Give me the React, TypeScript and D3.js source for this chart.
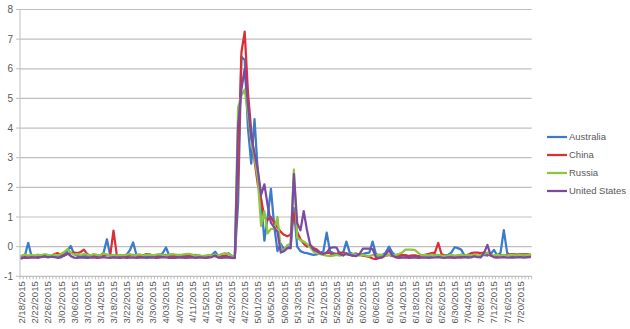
import React from "react";
import * as d3 from "d3";

const W = 630;
const H = 329;

const startDate = new Date(2015, 1, 18);
const endDate = new Date(2015, 6, 24);
const categories: Date[] = d3.timeDay.range(startDate, endDate);

const yTicks = [-1, 0, 1, 2, 3, 4, 5, 6, 7, 8];
const seriesNames = ["Australia", "China", "Russia", "United States"];
const seriesColors = ["#3B7BCB", "#DA2F36", "#8CC640", "#7D4AA2"];

const australia = [
  -0.33, -0.30, 0.13, -0.32, -0.34, -0.33, -0.30, -0.34, -0.33, -0.31,
  -0.30, -0.33, -0.32, -0.25, -0.12, 0.02, -0.25, -0.31, -0.33, -0.30,
  -0.32, -0.34, -0.31, -0.33, -0.30, -0.20, 0.25, -0.30, -0.33, -0.36,
  -0.32, -0.30, -0.27, -0.12, 0.14, -0.28, -0.33, -0.32, -0.35, -0.31,
  -0.33, -0.31, -0.30, -0.22, -0.03, -0.30, -0.34, -0.33, -0.31, -0.35,
  -0.32, -0.30, -0.33, -0.32, -0.30, -0.34, -0.33, -0.31, -0.28, -0.17,
  -0.32, -0.30, -0.33, -0.22, -0.31, -0.33, 1.5, 6.4, 6.3, 4.0,
  2.8, 4.3, 2.5, 1.6, 0.2, 1.0, 1.95, 0.7, -0.15, 0.1,
  -0.1, 0.0, -0.05, 1.3, 0.0, -0.15, -0.2, -0.22, -0.25, -0.28,
  -0.26, -0.22, -0.15, 0.47, -0.15, -0.22, -0.25, -0.2, -0.22, 0.17,
  -0.2, -0.25, -0.23, -0.28, -0.25, -0.22, -0.2, 0.17, -0.25, -0.3,
  -0.28, -0.2, 0.0, -0.2, -0.3, -0.27, -0.3, -0.28, -0.32, -0.3,
  -0.3, -0.32, -0.3, -0.28, -0.32, -0.3, -0.27, -0.3, -0.32, -0.3,
  -0.28, -0.2, -0.02, -0.05, -0.1, -0.3, -0.33, -0.32, -0.3, -0.32,
  -0.3, -0.28, -0.3, -0.25, -0.11, -0.3, -0.2, 0.56, -0.2, -0.3,
  -0.32, -0.3, -0.31, -0.33, -0.3, -0.31,
];

const china = [
  -0.40, -0.35, -0.33, -0.32, -0.30, -0.33, -0.31, -0.30, -0.34, -0.32,
  -0.25, -0.22, -0.28, -0.30, -0.25, -0.22, -0.20, -0.22, -0.18, -0.10,
  -0.25, -0.32, -0.30, -0.33, -0.31, -0.30, -0.28, -0.30, 0.54, -0.28,
  -0.33, -0.30, -0.32, -0.30, -0.28, -0.30, -0.33, -0.30, -0.25, -0.26,
  -0.30, -0.32, -0.35, -0.30, -0.28, -0.32, -0.30, -0.31, -0.28, -0.30,
  -0.32, -0.33, -0.30, -0.28, -0.31, -0.35, -0.38, -0.33, -0.30, -0.32,
  -0.36, -0.33, -0.30, -0.34, -0.32, -0.35, 2.5, 6.55, 7.25, 5.2,
  3.9, 2.9, 2.1, 1.6, 1.0, 0.9, 1.0, 0.8, 0.65, 0.5,
  0.4, 0.35, 0.4, 1.15, 0.5, 0.25, 0.1, 0.0, 0.05, -0.05,
  -0.1, -0.2, -0.25, -0.2, -0.22, -0.28, -0.25, -0.22, -0.2, -0.25,
  -0.28, -0.3, -0.25, -0.27, -0.3, -0.32, -0.35, -0.4, -0.42, -0.38,
  -0.35, -0.3, -0.28, -0.32, -0.3, -0.33, -0.28, -0.3, -0.32, -0.3,
  -0.3, -0.33, -0.3, -0.28, -0.25, -0.22, -0.2, 0.13, -0.25, -0.3,
  -0.33, -0.35, -0.32, -0.3, -0.33, -0.3, -0.28, -0.22, -0.2, -0.2,
  -0.22, -0.2, -0.25, -0.3, -0.32, -0.3, -0.28, -0.3, -0.27, -0.25,
  -0.25, -0.27, -0.25, -0.26, -0.25, -0.27,
];

const russia = [
  -0.30, -0.27, -0.30, -0.28, -0.31, -0.27, -0.30, -0.25, -0.28, -0.30,
  -0.27, -0.30, -0.25, -0.18, -0.08, -0.20, -0.27, -0.25, -0.28, -0.25,
  -0.27, -0.30, -0.25, -0.28, -0.30, -0.22, -0.27, -0.30, -0.28, -0.30,
  -0.28, -0.30, -0.27, -0.25, -0.30, -0.28, -0.26, -0.30, -0.28, -0.27,
  -0.30, -0.27, -0.25, -0.28, -0.30, -0.27, -0.25, -0.27, -0.29, -0.27,
  -0.25, -0.24, -0.27, -0.30, -0.28, -0.32, -0.30, -0.28, -0.30, -0.27,
  -0.30, -0.25, -0.22, -0.25, -0.30, -0.32, 4.7, 5.1, 5.3, 4.5,
  3.6, 3.0, 2.3, 0.7, 1.2, 0.45, 0.6, 0.6, 1.0, -0.1,
  -0.1, 0.05, 0.1, 2.6, 0.3, 0.22, 0.17, 0.09, -0.02, -0.17,
  -0.22, -0.25, -0.28, -0.3, -0.32, -0.3, -0.28, -0.3, -0.27, -0.25,
  -0.28, -0.25, -0.27, -0.3, -0.28, -0.3, -0.32, -0.28, -0.3, -0.27,
  -0.28, -0.3, -0.27, -0.3, -0.28, -0.25, -0.2, -0.1, -0.1, -0.1,
  -0.12, -0.22, -0.3, -0.28, -0.3, -0.27, -0.3, -0.28, -0.3, -0.32,
  -0.3, -0.28, -0.3, -0.3, -0.27, -0.3, -0.28, -0.3, -0.27, -0.3,
  -0.28, -0.25, -0.2, -0.28, -0.3, -0.27, -0.3, -0.28, -0.3, -0.27,
  -0.28, -0.3, -0.27, -0.3, -0.28, -0.27,
];

const unitedStates = [
  -0.38, -0.37, -0.38, -0.37, -0.36, -0.38, -0.35, -0.33, -0.36, -0.34,
  -0.35, -0.38, -0.36, -0.30, -0.22, -0.32, -0.37, -0.38, -0.36, -0.37,
  -0.38, -0.37, -0.36, -0.38, -0.37, -0.35, -0.37, -0.38, -0.36, -0.37,
  -0.38, -0.36, -0.38, -0.37, -0.36, -0.38, -0.37, -0.36, -0.38, -0.37,
  -0.36, -0.38, -0.37, -0.35, -0.36, -0.38, -0.37, -0.38, -0.36, -0.37,
  -0.38, -0.37, -0.36, -0.38, -0.37, -0.36, -0.38, -0.37, -0.35, -0.30,
  -0.37, -0.38, -0.36, -0.37, -0.38, -0.39, 4.1, 5.3, 6.0, 4.8,
  3.7, 3.15, 2.6, 1.75, 2.1, 1.4, 0.8, 0.65, 0.5, -0.2,
  -0.15, -0.05, -0.05, 2.45, 0.8, 0.55, 1.2, 0.55, 0.05, -0.1,
  -0.15, -0.22, -0.25, -0.2, -0.05, -0.02, -0.03, -0.25, -0.3, -0.22,
  -0.28, -0.3, -0.32, -0.25, -0.07, -0.07, -0.07, -0.08, -0.35, -0.38,
  -0.36, -0.25, -0.12, -0.3, -0.36, -0.38, -0.37, -0.36, -0.38, -0.37,
  -0.36, -0.38, -0.37, -0.36, -0.38, -0.37, -0.36, -0.35, -0.37, -0.38,
  -0.36, -0.37, -0.38, -0.36, -0.37, -0.35, -0.37, -0.36, -0.33, -0.35,
  -0.36, -0.2, 0.06, -0.3, -0.36, -0.37, -0.36, -0.35, -0.37, -0.36,
  -0.37, -0.36, -0.35, -0.37, -0.36, -0.35,
];

const seriesValues = [australia, china, russia, unitedStates];

const plotLeft = 20;
const plotRight = 531.7;
const plotTop = 9.5;
const plotBottom = 276.3;

const fmt = d3.timeFormat("%-m/%d/%Y");

export default function App() {
  const x = d3
    .scaleBand<number>()
    .domain(categories.map((_, i) => i))
    .range([plotLeft, plotRight])
    .paddingInner(0)
    .paddingOuter(0);
  const step = x.step();
  const cx = (i: number) => (x(i) as number) + step / 2;
  const y = d3.scaleLinear().domain([-1, 8]).range([plotBottom, plotTop]);

  const line = d3
    .line<number>()
    .x((_, i) => cx(i))
    .y((d) => y(d));

  const font = "'Liberation Sans', Arial, sans-serif";
  const textColor = "#595959";
  const gridColor = "#BFBFBF";

  const boundaries = d3.range(categories.length + 1).map((i) => plotLeft + i * step);
  const labelIdx = categories.map((_, i) => i).filter((i) => i % 4 === 0);

  return (
    <svg
      width={W}
      height={H}
      style={{ position: "absolute", left: 0, top: 0, background: "#fff" }}
    >
      {yTicks.map((t) => (
        <g key={t}>
          <line
            x1={plotLeft}
            x2={plotRight}
            y1={y(t)}
            y2={y(t)}
            stroke={gridColor}
            strokeWidth={1.2}
          />
          <line x1={plotLeft - 4} x2={plotLeft} y1={y(t)} y2={y(t)} stroke={gridColor} />
          <text
            x={plotLeft - 7}
            y={y(t)}
            dy="0.35em"
            textAnchor="end"
            fontFamily={font}
            fontSize={10}
            fill={textColor}
          >
            {t}
          </text>
        </g>
      ))}
      <line x1={plotLeft} x2={plotLeft} y1={plotTop} y2={plotBottom} stroke={gridColor} />
      {boundaries.map((bx, i) => (
        <line
          key={i}
          x1={bx}
          x2={bx}
          y1={plotBottom}
          y2={plotBottom + 3}
          stroke={gridColor}
        />
      ))}
      {labelIdx.map((i) => (
        <text
          key={i}
          transform={`translate(${cx(i) + 3.5},${plotBottom + 5}) rotate(-90)`}
          textAnchor="end"
          fontFamily={font}
          fontSize={9.5}
          fill={textColor}
        >
          {fmt(categories[i])}
        </text>
      ))}
      {seriesValues.map((vals, s) => (
        <path
          key={seriesNames[s]}
          d={line(vals) || ""}
          fill="none"
          stroke={seriesColors[s]}
          strokeWidth={2.25}
          strokeLinejoin="round"
          strokeLinecap="round"
        />
      ))}
      {seriesNames.map((name, s) => {
        const ly = 137 + s * 18;
        return (
          <g key={name}>
            <line
              x1={547}
              x2={567}
              y1={ly}
              y2={ly}
              stroke={seriesColors[s]}
              strokeWidth={2.25}
            />
            <text
              x={569}
              y={ly}
              dy="0.35em"
              fontFamily={font}
              fontSize={9.5}
              fill={textColor}
            >
              {name}
            </text>
          </g>
        );
      })}
    </svg>
  );
}
